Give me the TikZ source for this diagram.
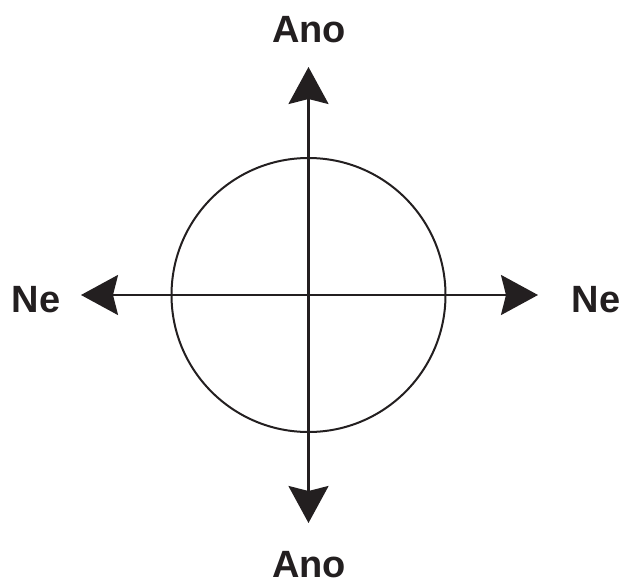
\documentclass[tikz,border=0pt]{standalone}
\usepackage{fontspec}
\setmainfont{Liberation Sans}
\usetikzlibrary{arrows.meta}
\definecolor{ink}{HTML}{231F20}
\begin{document}
\begin{tikzpicture}[x=1pt,y=-1pt,
  axis/.style={draw=ink,line width=2.4pt,-{Stealth[length=37pt,width=40pt,inset=5pt]}},
  lbl/.style={text=ink,font=\fontsize{38}{40}\selectfont\bfseries,inner sep=0pt}]
\useasboundingbox (0,0) rectangle (623,585);
\coordinate (c) at (308.5,295);
\coordinate (top) at (308.5,67);
\coordinate (bot) at (308.5,523);
\coordinate (left) at (81,295);
\coordinate (right) at (538,295);
\draw[ink,line width=2pt] (c) circle[radius=137];
\draw[axis] (c) -- (top);
\draw[axis] (c) -- (bot);
\draw[axis] (c) -- (left);
\draw[axis] (c) -- (right);
\node[lbl] (ltop) at (309,30) {Ano};
\node[lbl] (lbot) at (309,565) {Ano};
\node[lbl] (lleft) at (36,300) {Ne};
\node[lbl] (lright) at (596,300) {Ne};
\end{tikzpicture}
\end{document}
